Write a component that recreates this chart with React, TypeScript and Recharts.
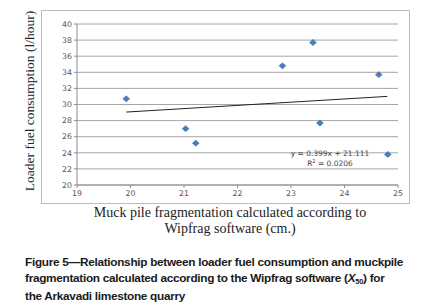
import { ComposedChart, Scatter, XAxis, YAxis, CartesianGrid } from 'recharts';

const fragmentation = [19.92, 21.03, 21.22, 22.84, 23.41, 23.54, 24.64, 24.81];
const fuelUse = [30.7, 27.0, 25.2, 34.8, 37.7, 27.7, 33.7, 23.8];
const xTicks = [19, 20, 21, 22, 23, 24, 25];
const yTicks = [20, 22, 24, 26, 28, 30, 32, 34, 36, 38, 40];
const trendSlope = 0.399;
const trendIntercept = 21.111;
const trendRange = [19.92, 24.8];

const points = fragmentation.map((x, i) => ({ x, y: fuelUse[i] }));
const trend = trendRange.map((x) => ({ x, y: trendSlope * x + trendIntercept }));

const Diamond = (props: any) => {
  const { cx, cy } = props;
  if (cx == null || cy == null) return null;
  const w = 3.8;
  const h = 3.4;
  return (
    <polygon
      points={`${cx},${cy - h} ${cx + w},${cy} ${cx},${cy + h} ${cx - w},${cy}`}
      fill="#4a7ebb"
    />
  );
};

const tickStyle = { fontSize: 7.8, fill: '#555', fontFamily: 'DejaVu Sans, sans-serif' };
const serif = '"Liberation Serif", "DejaVu Serif", serif';

export default function App() {
  return (
    <div style={{ position: 'absolute', left: 0, top: 0, width: 436, height: 307, background: '#fff' }}>
      <div
        style={{
          position: 'absolute',
          left: 41,
          top: 10,
          width: 367,
          height: 192,
          border: '1px solid #bdbdbd',
        }}
      />
      <div style={{ position: 'absolute', left: 0, top: 0 }}>
        <ComposedChart
          width={436}
          height={307}
          margin={{ top: 24, right: 38, bottom: 102, left: 0 }}
        >
          <CartesianGrid vertical={false} stroke="#a6a6a6" strokeWidth={1} />
          <XAxis
            type="number"
            dataKey="x"
            domain={[19, 25]}
            ticks={xTicks}
            height={20}
            tick={tickStyle}
            tickSize={3}
            stroke="#8c8c8c"
            interval={0}
          />
          <YAxis
            type="number"
            dataKey="y"
            domain={[20, 40]}
            ticks={yTicks}
            width={77}
            tick={tickStyle}
            tickSize={3}
            stroke="#8c8c8c"
            interval={0}
          />
          <Scatter
            data={trend}
            line={{ stroke: '#222', strokeWidth: 1 }}
            shape={() => null}
            isAnimationActive={false}
          />
          <Scatter data={points} shape={Diamond} isAnimationActive={false} />
        </ComposedChart>
      </div>
      <div
        style={{
          position: 'absolute',
          left: 288,
          top: 149,
          width: 84,
          textAlign: 'center',
          fontFamily: 'DejaVu Sans, sans-serif',
          fontSize: 7.5,
          color: '#444',
          lineHeight: '10px',
        }}
      >
        <div>y = 0.399x + 21.111</div>
        <div>
          R<span style={{ fontSize: 5, position: 'relative', top: -3 }}>2</span> = 0.0206
        </div>
      </div>
      <div
        style={{
          position: 'absolute',
          left: 30,
          top: 101,
          transform: 'translate(-50%, -50%) rotate(-90deg)',
          whiteSpace: 'nowrap',
          fontFamily: serif,
          fontSize: 13.5,
          color: '#222',
        }}
      >
        Loader fuel consumption (l/hour)
      </div>
      <div
        style={{
          position: 'absolute',
          left: 40,
          top: 205,
          width: 380,
          textAlign: 'center',
          fontFamily: serif,
          fontSize: 14,
          lineHeight: '16px',
          color: '#222',
        }}
      >
        <div>Muck pile fragmentation calculated according to</div>
        <div>Wipfrag software (cm.)</div>
      </div>
      <div
        style={{
          position: 'absolute',
          left: 25,
          top: 254,
          width: 411,
          fontFamily: '"Liberation Sans", Arial, sans-serif',
          fontWeight: 'bold',
          fontSize: 11.8,
          lineHeight: '16px',
          letterSpacing: -0.3,
          color: '#1a1a1a',
        }}
      >
        <div>Figure 5—Relationship between loader fuel consumption and muckpile</div>
        <div>
          fragmentation calculated according to the Wipfrag software (
          <i>X</i>
          <span style={{ fontSize: 7.5, position: 'relative', top: 2 }}>50</span>) for
        </div>
        <div>the Arkavadi limestone quarry</div>
      </div>
    </div>
  );
}
